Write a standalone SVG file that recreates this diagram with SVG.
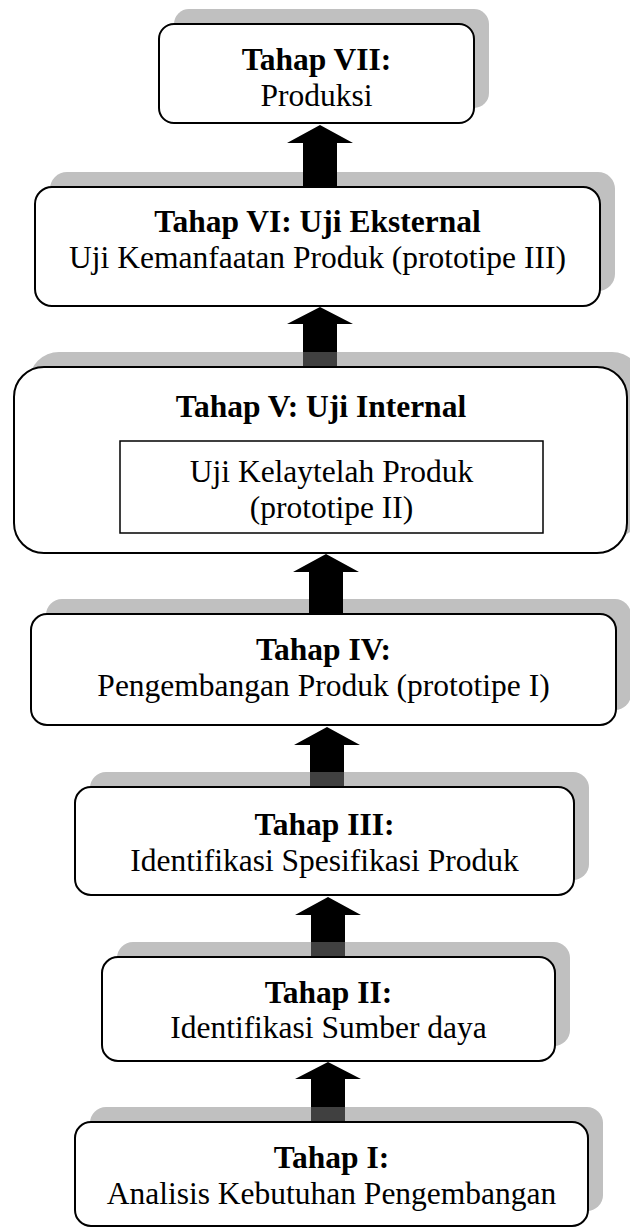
<svg xmlns="http://www.w3.org/2000/svg" width="630" height="1228" viewBox="0 0 630 1228">
<style>
.sh{fill:#c0c0c0;stroke:none}
.bx{fill:#ffffff;stroke:#000000;stroke-width:2}
.in{fill:#ffffff;stroke:#000000;stroke-width:1.5}
text{font-family:"Liberation Serif","Times New Roman",serif;font-size:31.5px;fill:#000000;text-anchor:middle}
.b{font-weight:bold}
.arr{fill:#000000}
.dk{fill:#404040}
</style>
<rect width="630" height="1228" fill="#ffffff"/>
<g id="node-7">
<rect class="sh" x="174" y="9" width="315" height="99" rx="15"/>
<rect class="bx" x="159" y="24" width="315" height="99" rx="15"/>
<text class="b" x="316.5" y="70">Tahap VII:</text>
<text x="316.5" y="106">Produksi</text>
</g>
<g id="node-6">
<rect class="sh" x="50" y="172" width="565" height="119" rx="17"/>
<rect class="bx" x="35" y="187" width="565" height="119" rx="17"/>
<text class="b" x="317.5" y="232">Tahap VI: Uji Eksternal</text>
<text x="317.5" y="268">Uji Kemanfaatan Produk (prototipe III)</text>
</g>
<g id="node-5">
<rect class="sh" x="29" y="352" width="613" height="186" rx="30"/>
<rect class="bx" x="14" y="367" width="613" height="186" rx="30"/>
<text class="b" x="321" y="417">Tahap V: Uji Internal</text>
<rect class="in" x="120" y="441" width="423" height="92"/>
<text x="331.5" y="482">Uji Kelaytelah Produk</text>
<text x="331.5" y="518">(prototipe II)</text>
</g>
<g id="node-4">
<rect class="sh" x="46" y="599" width="585" height="111" rx="16"/>
<rect class="bx" x="31" y="614" width="585" height="111" rx="16"/>
<text class="b" x="323.5" y="660">Tahap IV:</text>
<text x="323.5" y="696">Pengembangan Produk (prototipe I)</text>
</g>
<g id="node-3">
<rect class="sh" x="90" y="772" width="499" height="108" rx="16"/>
<rect class="bx" x="75" y="787" width="499" height="108" rx="16"/>
<text class="b" x="324.5" y="835">Tahap III:</text>
<text x="324.5" y="871">Identifikasi Spesifikasi Produk</text>
</g>
<g id="node-2">
<rect class="sh" x="117" y="942" width="453" height="104" rx="16"/>
<rect class="bx" x="102" y="957" width="453" height="104" rx="16"/>
<text class="b" x="328.5" y="1003">Tahap II:</text>
<text x="328.5" y="1038">Identifikasi Sumber daya</text>
</g>
<g id="node-1">
<rect class="sh" x="90" y="1107" width="513" height="104" rx="16"/>
<rect class="bx" x="75" y="1122" width="513" height="104" rx="16"/>
<text class="b" x="331.5" y="1168">Tahap I:</text>
<text x="331.5" y="1204">Analisis Kebutuhan Pengembangan</text>
</g>
<g id="connectors">
<polygon class="arr" points="320,125 353,143 337,143 337,186 303,186 303,143 287,143"/>
<polygon class="arr" points="320,307 353,324 337,324 337,366 303,366 303,324 287,324"/>
<rect class="dk" x="303" y="352" width="34" height="14"/>
<polygon class="arr" points="326,554 359,572 343,572 343,613 309,613 309,572 293,572"/>
<polygon class="arr" points="327,727 360,745 344,745 344,786 310,786 310,745 294,745"/>
<rect class="dk" x="310" y="772" width="34" height="14"/>
<polygon class="arr" points="328,897 361,915 345,915 345,956 311,956 311,915 295,915"/>
<rect class="dk" x="311" y="942" width="34" height="14"/>
<polygon class="arr" points="328,1062 361,1079 345,1079 345,1121 311,1121 311,1079 295,1079"/>
<rect class="dk" x="311" y="1107" width="34" height="14"/>
</g>
</svg>
